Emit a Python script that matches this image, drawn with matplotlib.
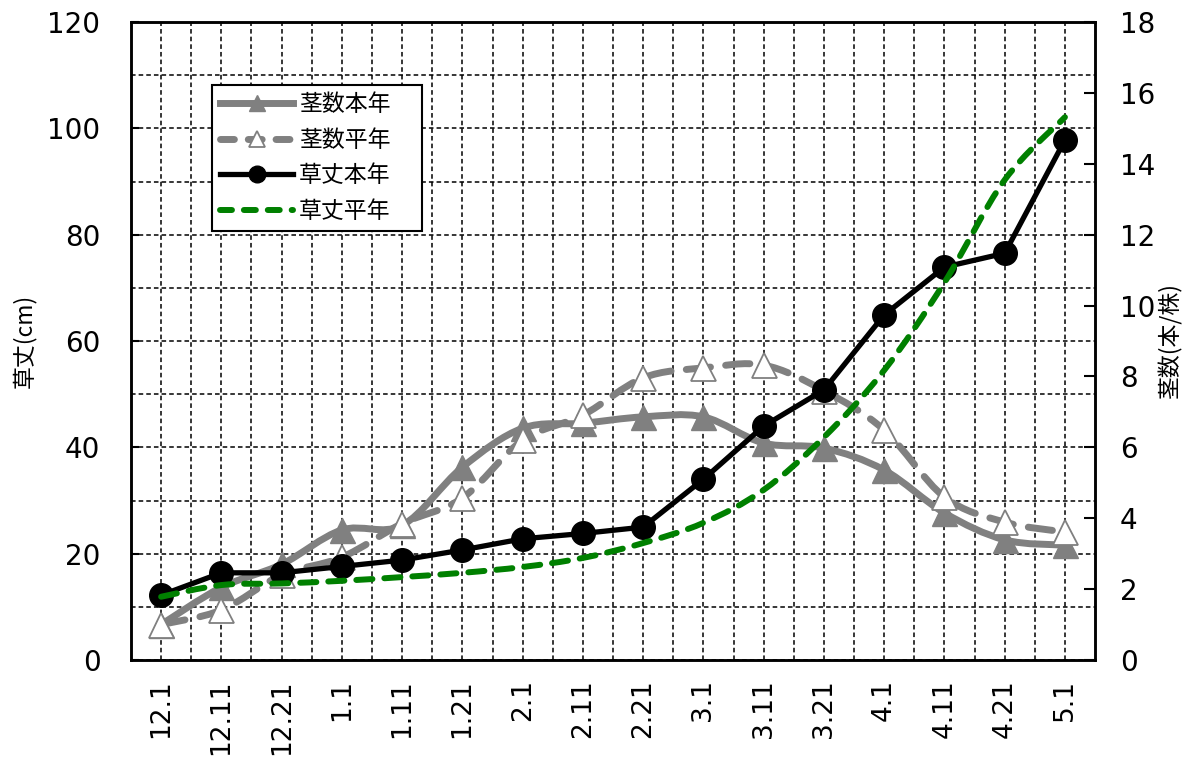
import matplotlib
matplotlib.use("Agg")
import matplotlib.pyplot as plt
from matplotlib.path import Path
from matplotlib.patches import PathPatch
from matplotlib.lines import Line2D
from matplotlib.ticker import MultipleLocator
import numpy as np

plt.rcParams['font.family'] = ['Noto Sans CJK JP', 'DejaVu Sans']

# 調査日
dates = ['12.1', '12.11', '12.21', '1.1', '1.11', '1.21', '2.1', '2.11',
         '2.21', '3.1', '3.11', '3.21', '4.1', '4.11', '4.21', '5.1']

# 草丈 (cm)
height_this = [12.2, 16.4, 16.4, 17.6, 18.8, 20.7, 22.8, 23.8,
               25.0, 34.0, 44.0, 50.8, 64.9, 73.9, 76.5, 97.8]
height_avg = [11.9, 14.1, 14.4, 14.9, 15.6, 16.4, 17.5, 19.2,
              22.0, 25.8, 32.0, 41.9, 54.5, 71.0, 90.3, 102.1]

# 茎数 (本/株)
stems_this = [1.0, 2.05, 2.7, 3.67, 3.8, 5.44, 6.54, 6.68,
              6.86, 6.86, 6.12, 5.98, 5.36, 4.15, 3.39, 3.24]
stems_avg = [1.0, 1.41, 2.4, 2.9, 3.85, 4.57, 6.2, 6.91,
             7.96, 8.24, 8.32, 7.6, 6.49, 4.6, 3.89, 3.61]

labels = ['茎数本年', '茎数平年', '草丈本年', '草丈平年']

GRAY = '#808080'
GREEN = '#008000'
NUM_FONT = ['DejaVu Sans']


def smooth_path(xs, ys):
    """Catmull-Rom style cubic Bezier through every point."""
    pts = np.column_stack([xs, ys]).astype(float)
    ext = np.vstack([pts[0], pts, pts[-1]])
    verts = [pts[0]]
    codes = [Path.MOVETO]
    for i in range(len(pts) - 1):
        p0, p1, p2, p3 = ext[i], ext[i + 1], ext[i + 2], ext[i + 3]
        c1 = p1 + (p2 - p0) / 6.0
        c2 = p2 - (p3 - p1) / 6.0
        verts += [c1, c2, p2]
        codes += [Path.CURVE4] * 3
    return Path(np.array(verts), codes)


fig = plt.figure(figsize=(11.93, 7.64), dpi=100)
ax = fig.add_axes([0.1098, 0.1361, 0.8081, 0.8351])
ax2 = ax.twinx()

x = np.arange(len(dates))

ax.set_xlim(-0.5, len(dates) - 0.5)
ax.set_ylim(0, 120)
ax2.set_ylim(0, 18)

# grid: every category and half category, every 10 cm
ax.set_xticks(x)
ax.set_xticks(x[:-1] + 0.5, minor=True)
ax.set_xticklabels(dates, rotation=90, va='top', ha='center', family=NUM_FONT)
ax.yaxis.set_major_locator(MultipleLocator(20))
ax.yaxis.set_minor_locator(MultipleLocator(10))
ax2.yaxis.set_major_locator(MultipleLocator(2))
ax.set_axisbelow(True)
ax.grid(which='both', color='black', linestyle=(0, (3, 2)), linewidth=1.1)

ax.tick_params(axis='x', which='both', length=0, pad=14, labelsize=19)
ax.tick_params(axis='y', which='major', direction='in', length=6, width=1.5,
               pad=22, labelsize=20)
ax.tick_params(axis='y', which='minor', length=0)
ax2.tick_params(axis='y', direction='in', length=8, width=1.5, pad=18, labelsize=20)
for t in ax.get_yticklabels() + ax2.get_yticklabels():
    t.set_family(NUM_FONT)

for a in (ax, ax2):
    for s in a.spines.values():
        s.set_linewidth(1.8)
        s.set_color('black')

ax.set_ylabel('草丈(cm)', fontsize=16.5, labelpad=8)
ax2.set_ylabel('茎数(本/株)', fontsize=16.5, labelpad=2, rotation=90)

# 茎数 (right scale), drawn on the main axes so that the height lines sit on top
tr2 = ax2.transData
ax.add_patch(PathPatch(smooth_path(x, stems_this), fill=False, edgecolor=GRAY,
                       linewidth=5, capstyle='round', joinstyle='round',
                       transform=tr2, zorder=2))
ax.plot(x, stems_this, linestyle='none', marker='^', markersize=18,
        color=GRAY, transform=tr2, zorder=2.1)

ax.add_patch(PathPatch(smooth_path(x, stems_avg), fill=False, edgecolor=GRAY,
                       linewidth=5, linestyle=(0, (3.5, 2.2)), capstyle='round',
                       transform=tr2, zorder=2.2))
ax.plot(x, stems_avg, linestyle='none', marker='^', markersize=18,
        markerfacecolor='white', markeredgecolor=GRAY, markeredgewidth=1.3,
        transform=tr2, zorder=2.3)

# 草丈 (left scale)
ax.plot(x, height_this, color='black', linewidth=3.8, marker='o',
        markersize=17, zorder=3)
ax.add_patch(PathPatch(smooth_path(x, height_avg), fill=False, edgecolor=GREEN,
                       linewidth=4.3, linestyle=(0, (2.7, 2.0)), capstyle='round',
                       zorder=4))

handles = [
    Line2D([], [], color=GRAY, linewidth=5, marker='^', markersize=12),
    Line2D([], [], color=GRAY, linewidth=5, linestyle=(0, (2, 2)),
           dash_capstyle='round', marker='^', markersize=11,
           markerfacecolor='white', markeredgecolor=GRAY, markeredgewidth=1.3),
    Line2D([], [], color='black', linewidth=3.8, marker='o', markersize=12),
    Line2D([], [], color=GREEN, linewidth=4.3, linestyle=(0, (2, 2)),
           dash_capstyle='round'),
]
leg = ax.legend(handles, labels, loc='upper left',
                bbox_to_anchor=(212 / 1193, 1 - 228 / 764, 210 / 1193, 143 / 764),
                bbox_transform=fig.transFigure, borderaxespad=0, mode='expand',
                fontsize=16.5, handlelength=3.2, handletextpad=0.25,
                labelspacing=0.55, borderpad=0.35, fancybox=False,
                framealpha=1, edgecolor='black')
leg.get_frame().set_linewidth(1.5)
leg.set_zorder(10)

fig.savefig('out.png', dpi=100)
